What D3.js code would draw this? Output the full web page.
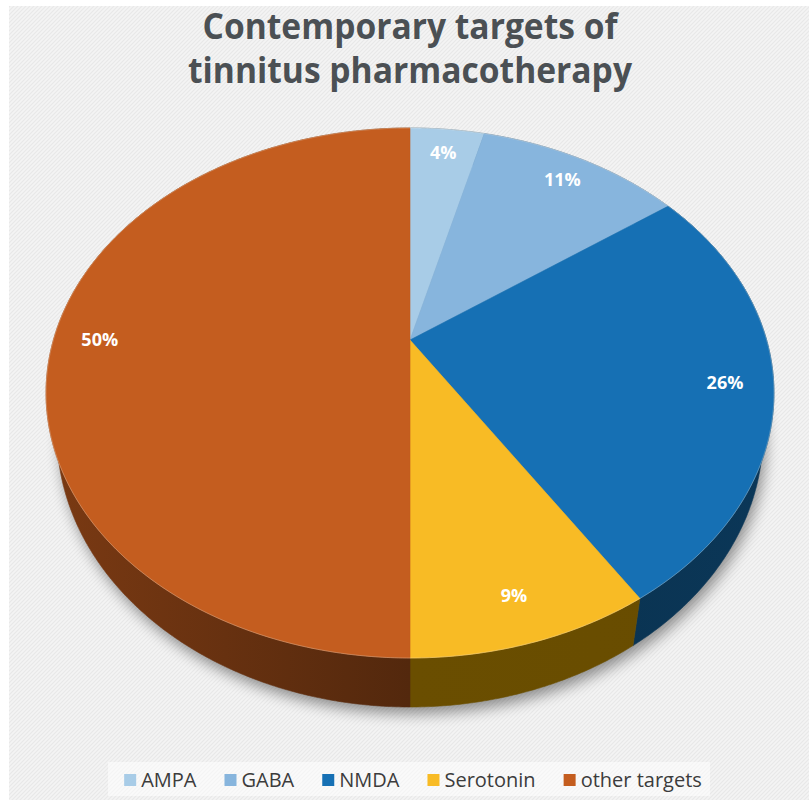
<!DOCTYPE html>
<html>
<head>
<meta charset="utf-8">
<script src="https://cdn.jsdelivr.net/npm/d3@7"></script>
<style>
  html, body { margin: 0; padding: 0; background: #ffffff; }
  svg { display: block; }
</style>
</head>
<body>
<svg id="chart" width="809" height="800"></svg>
<script>
// Chart data
const categories = ["AMPA", "GABA", "NMDA", "Serotonin", "other targets"];
const shares = [4, 11, 26, 9, 50];
const colors = ["#a8cce7", "#87b5dd", "#1670b4", "#f8bb25", "#c45d1f"];
const titleLines = ["Contemporary targets of", "tinnitus pharmacotherapy"];

const W = 809, H = 800;
const svg = d3.select("#chart");
const defs = svg.append("defs");

// Textured light-grey panel
const pat = defs.append("pattern")
  .attr("id", "hatch").attr("patternUnits", "userSpaceOnUse")
  .attr("width", 4).attr("height", 4);
pat.append("rect").attr("width", 4).attr("height", 4).attr("fill", "#f4f4f4");
pat.append("path").attr("d", "M-1,1 L1,-1 M0,4 L4,0 M3,5 L5,3")
  .attr("stroke", "#e8e8e8").attr("stroke-width", 1.1);
svg.append("rect").attr("x", 9).attr("y", 6).attr("width", W - 9).attr("height", H - 6)
  .attr("fill", "url(#hatch)");

// Title
const title = svg.append("g").attr("font-family", "'Open Sans', 'Noto Sans', sans-serif")
  .attr("font-weight", 700).attr("font-size", 35).attr("fill", "#4b5054")
  .attr("text-anchor", "middle");
const titleWidths = [415, 444];
titleLines.forEach((line, i) => {
  title.append("text").attr("x", 410).attr("y", 39 + i * 44)
    .attr("textLength", titleWidths[i]).attr("lengthAdjust", "spacingAndGlyphs")
    .text(line);
});

// Perspective projection of the pie plane onto the screen
const cx = 410, cy = 340, sx = 356.6, sy = 254.4, persp = 0.2, depth = 39.2;
function project(angle, r, z) {
  const u = r * Math.sin(angle), v = -r * Math.cos(angle);
  const w = 1 - persp * v;
  let x = cx + sx * u / w, y = cy + sy * v / w;
  if (z) { x = cx + (x - cx) * (1 - 0.03 * z); y += depth * z / w; }
  return [x, y];
}
function arcPoints(a0, a1, r, z) {
  const n = Math.max(2, Math.ceil((a1 - a0) / (Math.PI / 360)));
  return d3.range(n + 1).map(i => project(a0 + (a1 - a0) * i / n, r, z));
}
const line = d3.line();

const data = categories.map((c, i) => ({ name: c, value: shares[i], color: colors[i] }));
const arcs = d3.pie().sort(null).value(d => d.value)(data);

// Shadow under the pie
const shadow = defs.append("filter").attr("id", "shadow")
  .attr("x", "-10%").attr("y", "-10%").attr("width", "120%").attr("height", "125%");
shadow.append("feGaussianBlur").attr("stdDeviation", 7);

const pie = svg.append("g");
const full = arcPoints(0, 2 * Math.PI, 1, 0);
const fullBottom = arcPoints(0, 2 * Math.PI, 1, 1);
pie.append("path")
  .attr("d", line(fullBottom.map(p => [p[0] + 3, p[1] + 7])) + "Z")
  .attr("fill", "#000").attr("opacity", 0.4).attr("filter", "url(#shadow)");

// Side walls, shaded darker toward the front
const wallShade = { 3: ["#6f5300", "#6a4e00", "#684c00"] };
arcs.forEach((a, i) => {
  const base = d3.rgb(a.data.color);
  const g = defs.append("linearGradient").attr("id", "wall" + i)
    .attr("gradientUnits", "userSpaceOnUse")
    .attr("x1", cx - 370).attr("x2", cx + 370).attr("y1", 0).attr("y2", 0);
  const stops = wallShade[i] || [base.darker(1.3), base.darker(2.4), base.darker(2.0)];
  g.append("stop").attr("offset", 0).attr("stop-color", stops[0]);
  g.append("stop").attr("offset", 0.5).attr("stop-color", stops[1]);
  g.append("stop").attr("offset", 1).attr("stop-color", stops[2]);
  const top = arcPoints(a.startAngle, a.endAngle, 1, 0);
  const bottom = arcPoints(a.startAngle, a.endAngle, 1, 1).reverse();
  pie.append("path").attr("d", line(top.concat(bottom)) + "Z")
    .attr("fill", `url(#wall${i})`)
    .attr("stroke", `url(#wall${i})`).attr("stroke-width", 0.6);
});

// Top faces
arcs.forEach(a => {
  const pts = [project(0, 0, 0)].concat(arcPoints(a.startAngle, a.endAngle, 1, 0));
  pie.append("path").attr("d", line(pts) + "Z")
    .attr("fill", a.data.color).attr("stroke", a.data.color).attr("stroke-width", 0.6);
});

// Faint highlight along the rim
pie.append("path").attr("d", line(full) + "Z")
  .attr("fill", "none").attr("stroke", "#fff3e6").attr("stroke-opacity", 0.35)
  .attr("stroke-width", 0.8);

// Percentage labels
const fmt = d => d + "%";
pie.append("g").attr("font-family", "'Open Sans', 'Noto Sans', sans-serif")
  .attr("font-weight", 700).attr("font-size", 18).attr("fill", "#ffffff")
  .attr("text-anchor", "middle")
  .selectAll("text").data(arcs).join("text")
  .attr("transform", a => {
    const p = project((a.startAngle + a.endAngle) / 2, 0.87, 0);
    return `translate(${p[0]},${p[1]})`;
  })
  .attr("dy", "0.36em")
  .text(a => fmt(a.data.value));

// Legend
svg.append("rect").attr("x", 108).attr("y", 762).attr("width", 602).attr("height", 34)
  .attr("fill", "#ffffff").attr("opacity", 0.5);
const legend = svg.append("g").attr("font-family", "'Open Sans', 'Noto Sans', sans-serif")
  .attr("font-size", 20).attr("fill", "#3c3c3c");
const items = legend.selectAll("g").data(data).join("g");
items.append("rect").attr("width", 12).attr("height", 12).attr("y", 774)
  .attr("fill", d => d.color);
items.append("text").attr("x", 17).attr("y", 787).text(d => d.name);
const sq = 12, gapText = 5, gapItem = 28;
let widths = [];
items.each(function () { widths.push(d3.select(this).select("text").node().getComputedTextLength()); });
const total = d3.sum(widths) + widths.length * (sq + gapText) + (widths.length - 1) * gapItem;
let xPos = 413 - total / 2;
items.each(function (d, i) {
  d3.select(this).attr("transform", `translate(${xPos},0)`);
  xPos += sq + gapText + widths[i] + gapItem;
});
</script>
</body>
</html>
